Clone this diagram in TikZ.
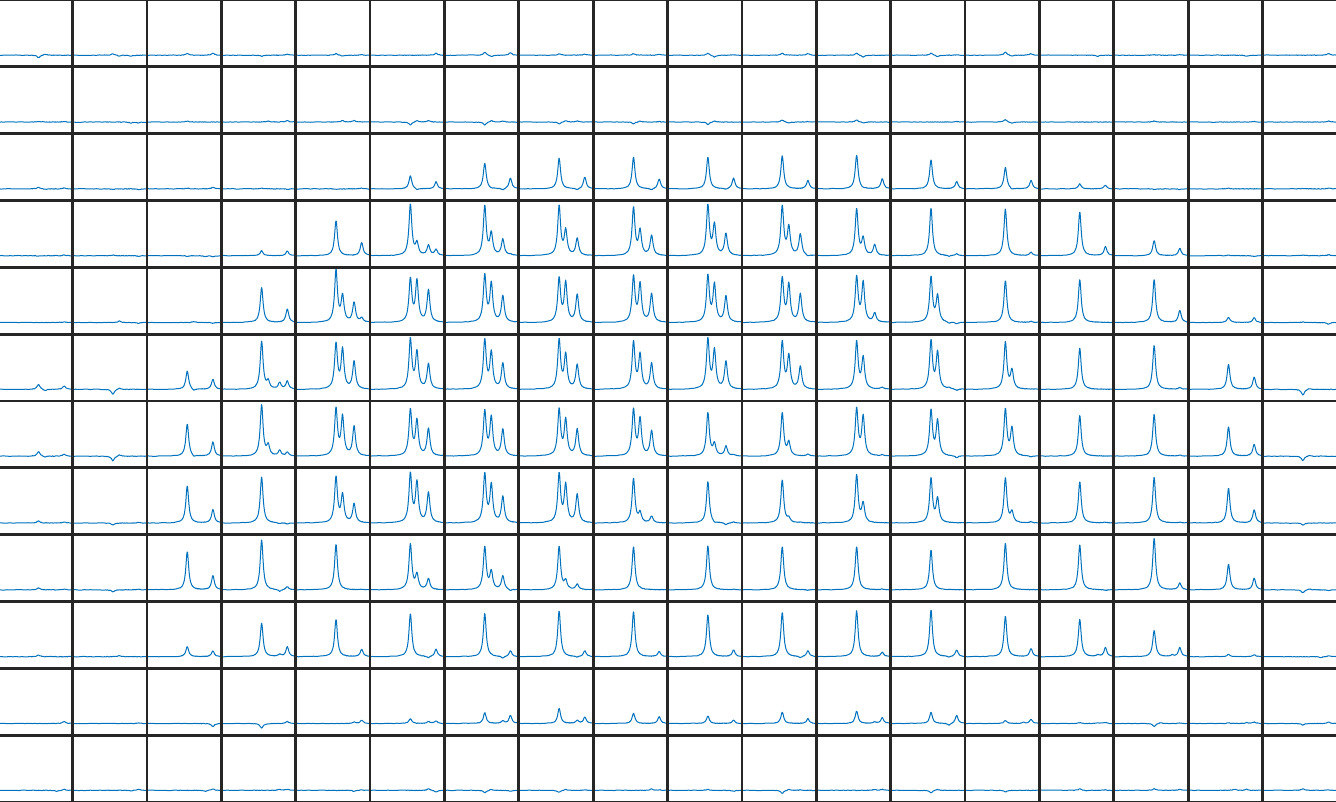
\documentclass[tikz,border=0pt]{standalone}
\usepackage{tikz}
\definecolor{specblue}{RGB}{0,114,189}
\definecolor{boxgray}{RGB}{38,38,38}
\tikzstyle{cellbox}=[draw=boxgray, line width=1.4pt]
\tikzstyle{spectrum}=[draw=specblue, line width=1pt, line join=round]

\begin{document}
\begin{tikzpicture}[x=1pt, y=-1pt]
    \useasboundingbox (0,0) rectangle (1336,802);
    \clip (0,0) rectangle (1336,802);

    \def\cw{74.375}
    \def\ch{66.83}
    \def\dx{-1.8}
    \def\gam{0.023}
    \def\fine{0,0.04,...,0.4,0.43,0.45,0.455,...,0.95,0.97,1}
    \def\rough{0,0.04,...,0.4,0.43,0.45,0.46,...,0.95,0.97,1}
    \pgfmathsetseed{3}

    % peak heights A/B/C/D for each cell, one row of the map per line
    \foreach \row/\spectra in {%
        1/{-2.5/1/0/0, 1.5/-1/-1/0, 1.5/0/0/2, -1/0/0/1, 1.5/-1/0/0.5, 0/0/0/2, 3/-1.5/0/2.5, 1.5/0/0/1, 1.5/0/0/1, 2/-2/0/0.5, 2/0/0/1.5, 2/-2/0/0, 2/-1.5/0/0.5, 3/-1/0/1.5, 0/0/-1/0, 0.5/0/0/0.5, 0/0/-1/0, 0/0/0/1.5},%
        2/{0.5/0/0/0.5, 0/0/-1/-1, 1/0/0/0, 0/1/0/1.5, 0/1.5/1.5/0, -3/1.5/1.5/0, -3/1.5/1/0, -2/1.5/1/0, -2/1/0/0.5, -2.5/1/0/0, 2/-1/0/0.5, 2/-1/0/0, 0/0/0/0.5, 2.5/-1.5/0/0, 0/0/0/0, 1/0/0/0, 0/0/0/0.5, 0/0/0/1},%
        3/{1.5/-0.5/0/1, -0.7/0/0/-0.7, 0.7/0/0/1.5, 0.7/0/0/-0.5, -0.5/0/0/0.7, 13/-1.5/0/7, 25.7/-0.5/-1.5/10.7, 30.7/0/-1.5/11.7, 31.7/0/-1.5/9.7, 31.7/0/-1/10.7, 33/0/0/8.3, 33.7/-0.5/0/10, 29/0/0/7.3, 21.3/-1.5/0/8.3, 5/0/0/3.7, -0.7/0/0/-0.7, 0.7/0/0/0, 0.5/0/0/0.8},%
        4/{-0.5/0/0/0.7, 0.7/0/0/-0.7, -0.7/0/-1/-1, 5/0/0/4.7, 35/0/0/13, 51/12/10/6, 49.3/21.4/16/1, 49.1/24.4/17/0, 47.7/24.5/20/0, 49.8/30.4/21.7/0, 49/27.8/21.3/-1.5, 46.6/16.6/10.7/0, 47.3/0/-1/1.7, 46.7/0/0/3.3, 43.7/0/0/9, 15/0/0/7.3, 0.7/0/0/-0.7, 0.7/0/0/1},%
        5/{0/0/0/0.7, 0/1.5/0/-1, 0/1/0/-0.8, 35/0/0/13.3, 51.7/25.7/19.7/4.2, 42.8/40.7/32/0, 46.7/37.9/26.3/0, 43.3/39.1/27.6/0, 45.4/37.6/28.3/0, 46/37.2/26/0, 44/37.1/28.3/0, 44.9/39/9/0, 45/26/-1.5/-1.5, 42/0/0/1, 43/0/0/0, 43/0/0/12, 5.3/0/0/4.7, 0.5/0/0/-1.7},%
        6/{5/-1.5/0/3.3, -5/1.5/0/0, 18.3/-2/0/10, 47.7/7.3/6.5/8, 44.9/39/27.5/0, 49.5/36.4/25/0, 48.8/36.1/25.6/0, 48.9/33.8/24.4/0, 46.9/33.9/25.7/0, 49.4/38.1/27.3/0, 47/32.9/22.4/0, 47.1/30.9/0/1.7, 47.8/36.2/1/-1.5, 47.1/18.2/0/0, 41.3/0/0/0, 44/0/0/1.7, 25/0/0/12.3, -5.7/1/0/0},%
        7/{4.7/-1/0/2, -4.7/1.5/0/0, 32.3/-2/0/14, 51/10/5.5/3.8, 46.6/38.5/29.3/0, 45.9/34.6/27.3/0, 44.4/38/26.5/0, 46.1/35.5/26.6/0, 46.1/36.5/25/0, 43.2/11.8/9.8/1, 43.1/13.2/0/2, 46.9/38.9/0/1, 45.2/34.6/0/-2, 46.6/27.2/0/-1, 40.7/0/0/0, 41.7/0/0/1, 29.3/0/0/11.7, -4.3/1/0/0},%
        8/{2/0/0/1, -2/0/0/0.5, 37/0/0/13.3, 46/0/-1/-1, 45.3/27.3/18.8/0, 48.6/39.8/30.2/0, 48.4/37.1/26/0, 48.4/37.1/28.3/0, 44.3/9.7/6.5/0, 41.7/-1.5/-2/1, 43/4.2/0.5/0, 47.8/18.9/0/0, 44.2/23.7/0/0, 45/10.4/0/1, 41.3/0/0/0.7, 45.7/0/0/0.7, 34.7/0/0/13, -2/0/0/0},%
        9/{2/0/0/0.8, -2/0/0/0.5, 38.3/0/0/14, 50/0/-2/3, 45.7/0/0/0.5, 45.7/14.6/11/0, 42.9/17.5/13.6/-1.5, 43.4/8.5/5.5/0, 43.3/0/0/0, 44/0/0/0.5, 43.3/0/0/-0.5, 43.3/0/0/0.7, 39.7/0/0/0, 46.7/0/0/0, 45/0/0/-0.7, 51.7/0/0/6.7, 25.7/0/0/11.7, -3/1/0/-0.7},%
        10/{1.5/0/0/0, 0/1/0/0, 10/0/0/5.7, 33.3/0/2/9.7, 37.3/0/0/7.3, 43/0/-1.5/7.3, 43.3/0/-2/5.7, 45.7/0/-1/5.7, 45/0/0/5, 41.7/0/0/6.7, 44.3/0/-1.5/5.7, 46/0/0/4.3, 46.7/0/-1/6.3, 40.7/0/0/8, 37.3/0/1.5/9, 26.3/0/1.5/9, 2.3/0/0/2, 0/0/-1/1},%
        11/{0/0/0/2, 0/0/0/0.5, 0/0/0/-3, -4.7/0/0/2, 0/0/1.5/3.3, 5/0/2/2.5, 10.7/0/2.5/8, 15/0/3/6.3, 10/0/0/6.7, 7.3/0/0/3.3, 11.3/0/0/4.7, 12.3/0/1.5/5.7, 11.3/0/-2/8, 3/0/1/4, 0.7/0/0.7/1, -3/1/0/0.5, 0.5/0/1/1.5, -1.5/0/0/1.5},%
        12/{0/0/-1/1, 0/0/-0.5/1, 0/0/-1/1.5, 0/0/1/1, 0/0/-1/0.5, 0/0/1.5/-1.5, -2.5/1/0/-1, -2/1/0/0.5, 0/0/1.5/0.5, 1/0/0/-1, -3/1/0.5/0, 0/0/1/1, -2.5/1/0/0, -1.5/0/0/0, 1.5/-0.5/0/0.5, 1.5/0/0/1, 0/1/1/0, 1.5/0/0/0.5}}
    {
        \foreach \ha/\hb/\hc/\hd [count=\col] in \spectra {
            \pgfmathsetmacro\cx{\dx+(\col-1)*\cw}
            \pgfmathsetmacro\cy{(\row-1)*\ch}
            \pgfmathsetmacro\base{\cy+55.2}
            \pgfmathsetmacro\hmax{max(abs(\ha),abs(\hb),abs(\hc),abs(\hd))}
            \ifdim\hmax pt<6pt \let\xs\rough \else \let\xs\fine \fi
            \draw[spectrum] plot[variable=\t, samples at/.expand once=\xs]
                ({\cx+\cw*\t}, {\base - \ha/(1+((\t-0.542)/\gam)^2) - \hb/(1+((\t-0.630)/\gam)^2)
                 - \hc/(1+((\t-0.785)/\gam)^2) - \hd/(1+((\t-0.887)/\gam)^2) + 0.25*rand});
            \draw[cellbox] (\cx+0.7,\cy+0.7) rectangle (\cx+\cw-0.7,\cy+\ch-0.7);
        }
    }
\end{tikzpicture}
\end{document}
